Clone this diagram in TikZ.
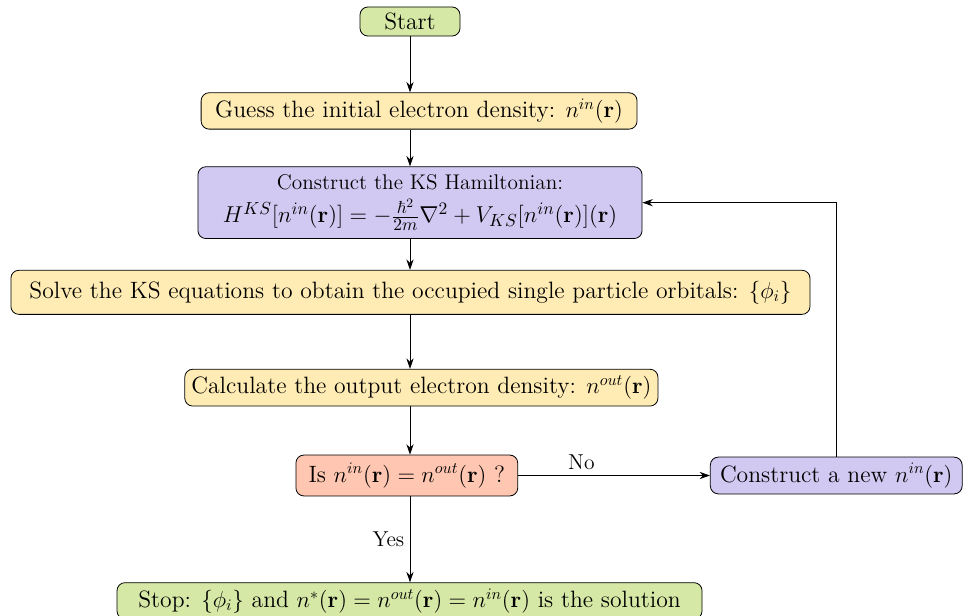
\documentclass[tikz,border=0pt]{standalone}
\usepackage{amsmath,amssymb}
\usepackage{tikz}
\usetikzlibrary{arrows.meta,positioning}

\definecolor{startgreen}{RGB}{213,232,165}
\definecolor{stepyellow}{RGB}{255,236,180}
\definecolor{ksviolet}{RGB}{210,201,242}
\definecolor{testred}{RGB}{255,199,177}

\begin{document}
\begin{tikzpicture}[
  font=\fontsize{14.8}{18}\selectfont,
  box/.style={draw, rounded corners=5pt, align=center, inner xsep=4pt,
    inner ysep=3pt, minimum height=0.8cm, line width=0.5pt},
  arr/.style={-{Stealth[length=6.5pt,width=4.5pt]}, line width=0.5pt},
  lbl/.style={font=\fontsize{13.5}{16}\selectfont}
]
\useasboundingbox (-9.02,0.473) rectangle (12.188,-13.057);
\node[box, fill=startgreen, minimum height=0.64cm, minimum width=2.2cm] (start) {Start};
\node[box, fill=stepyellow, below=1.23cm of start, xshift=0.2cm, minimum width=9.59cm] (guess)
  {Guess the initial electron density: $n^{in}(\mathbf{r})$};
\node[box, fill=ksviolet, below=0.81cm of guess, minimum height=1.58cm, minimum width=9.77cm,
  xshift=0.02cm] (ks)
  {{\fontsize{13.3}{16}\selectfont Construct the KS Hamiltonian:}\\[3pt]
   {\fontsize{15.6}{18}\selectfont
   $H^{KS}[n^{in}(\mathbf{r})]=-\frac{\hbar^2}{2m}\nabla^2+V_{KS}[n^{in}(\mathbf{r})](\mathbf{r})$}};
\node[box, fill=stepyellow, below=0.68cm of ks, minimum height=0.97cm, minimum width=17.58cm,
  xshift=-0.21cm] (solve)
  {Solve the KS equations to obtain the occupied single particle orbitals: $\{\phi_i\}$};
\node[box, fill=stepyellow, below=1.19cm of solve, minimum height=0.81cm, minimum width=10.41cm,
  xshift=0.24cm] (calc)
  {Calculate the output electron density: $n^{out}(\mathbf{r})$};
\node[box, fill=testred, below=1.06cm of calc, minimum height=0.9cm, minimum width=4.88cm,
  xshift=-0.32cm] (check)
  {Is $n^{in}(\mathbf{r})=n^{out}(\mathbf{r})$ ?};
\node[box, fill=ksviolet, right=4.22cm of check, minimum height=0.81cm, minimum width=5.54cm] (newn)
  {Construct a new $n^{in}(\mathbf{r})$};
\node[box, fill=startgreen, below=1.89cm of check, xshift=0.06cm, minimum width=12.87cm] (stop)
  {Stop: $\{\phi_i\}$ and $n^{*}(\mathbf{r})=n^{out}(\mathbf{r})=n^{in}(\mathbf{r})$ is the solution};
\coordinate (back) at (newn |- ks.east);

\draw[arr] (start.south) -- (start.south |- guess.north);
\draw[arr] (start.south |- guess.south) -- (start.south |- ks.north);
\draw[arr] (start.south |- ks.south) -- (start.south |- solve.north);
\draw[arr] (start.south |- solve.south) -- (start.south |- calc.north);
\draw[arr] (start.south |- calc.south) -- (start.south |- check.north);
\draw[arr] (check.east) -- node[above, lbl, pos=0.33] {No} (newn.west);
\draw[arr] (start.south |- check.south) -- node[left, lbl] {Yes} (start.south |- stop.north);
\draw[arr] (newn.north) -- (back) -- (ks.east);
\end{tikzpicture}
\end{document}
